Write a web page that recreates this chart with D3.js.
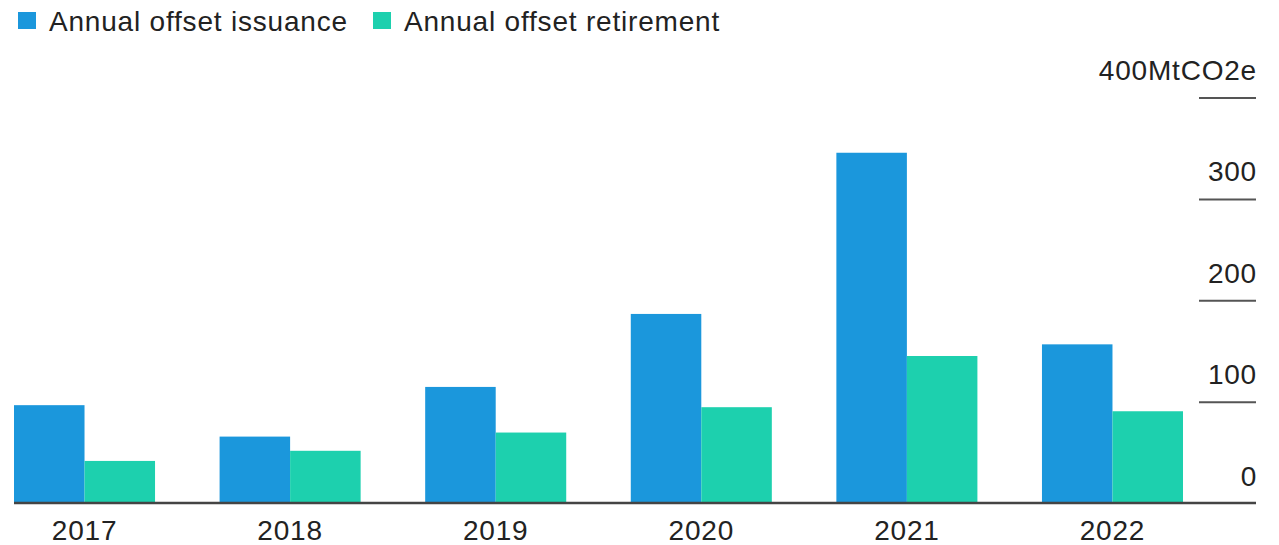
<!DOCTYPE html>
<html>
<head>
<meta charset="utf-8">
<script src="https://cdn.jsdelivr.net/npm/d3@7"></script>
<style>
  body { margin: 0; background: #fff; }
  text { font-family: "Liberation Sans", Arial, sans-serif; fill: #222; }
</style>
</head>
<body>
<script>
// values, MtCO2e
const years = ["2017", "2018", "2019", "2020", "2021", "2022"];
const issuance = [96.5, 65.5, 114.5, 186.5, 345.5, 156.5];
const retirement = [41.5, 51.5, 69.5, 94.5, 145, 90.5];
const seriesNames = ["Annual offset issuance", "Annual offset retirement"];
const yTicks = [0, 100, 200, 300, 400];

const colors = ["#1b97dc", "#1dd0ae"];
const W = 1279, H = 545;

var svg = d3.select("body").append("svg").attr("width", W).attr("height", H);

// the baseline sits at 503, the 400 gridline near 97
var y = d3.scaleLinear().domain([0, 400]).range([503, 97.5]);
var x = d3.scaleBand().domain(years).range([14, 1183]).paddingInner(0.314).paddingOuter(0);
var xs = d3.scaleBand().domain([0, 1]).range([0, x.bandwidth()]).padding(0);

var rows = years.map((yr, i) => ({ year: yr, vals: [issuance[i], retirement[i]] }));

var groups = svg.selectAll("g.year").data(rows).join("g")
  .attr("class", "year")
  .attr("transform", d => `translate(${x(d.year)},0)`);

groups.selectAll("rect").data(d => d.vals).join("rect")
  .attr("x", (d, i) => xs(i))
  .attr("width", xs.bandwidth())
  .attr("y", d => y(d))
  .attr("height", d => y(0) - y(d))
  .attr("fill", (d, i) => colors[i]);

// right hand value axis: short ticks with labels sitting above them
var yAxis = d3.axisLeft(y).tickValues(yTicks).tickSize(57)
  .tickFormat(d => d == 400 ? d + "MtCO2e" : d);

var ya = svg.append("g").attr("transform", "translate(1256,0)").call(yAxis);
ya.select(".domain").remove();
ya.selectAll(".tick line").attr("stroke", "#555").attr("stroke-width", 2)
  .filter(d => d == 0).remove();
ya.selectAll(".tick text")
  .attr("x", 1).attr("dy", 0).attr("y", -18)
  .attr("font-size", 28).attr("letter-spacing", 0.8)
  .attr("fill", "#222")
  .style("font-family", '"Liberation Sans", Arial, sans-serif');

// baseline
svg.append("line")
  .attr("x1", 14).attr("x2", 1256)
  .attr("y1", y(0)).attr("y2", y(0))
  .attr("stroke", "#444").attr("stroke-width", 2.5);

// year labels
var xAxis = d3.axisBottom(x).tickSize(0).tickPadding(0);
var xa = svg.append("g").call(xAxis);
xa.select(".domain").remove();
xa.selectAll(".tick text")
  .attr("y", 540).attr("dy", 0)
  .attr("font-size", 28).attr("letter-spacing", 0.8)
  .attr("fill", "#222")
  .style("font-family", '"Liberation Sans", Arial, sans-serif');

// legend
var legX = [18, 373];
var leg = svg.selectAll("g.leg").data(seriesNames).join("g")
  .attr("class", "leg")
  .attr("transform", (d, i) => `translate(${legX[i]},0)`);
leg.append("rect").attr("x", 0).attr("y", 12).attr("width", 18).attr("height", 17)
  .attr("fill", (d, i) => colors[i]);
leg.append("text").attr("x", 31).attr("y", 31)
  .attr("font-size", 28).attr("letter-spacing", 0.8)
  .text(d => d);
</script>
</body>
</html>
